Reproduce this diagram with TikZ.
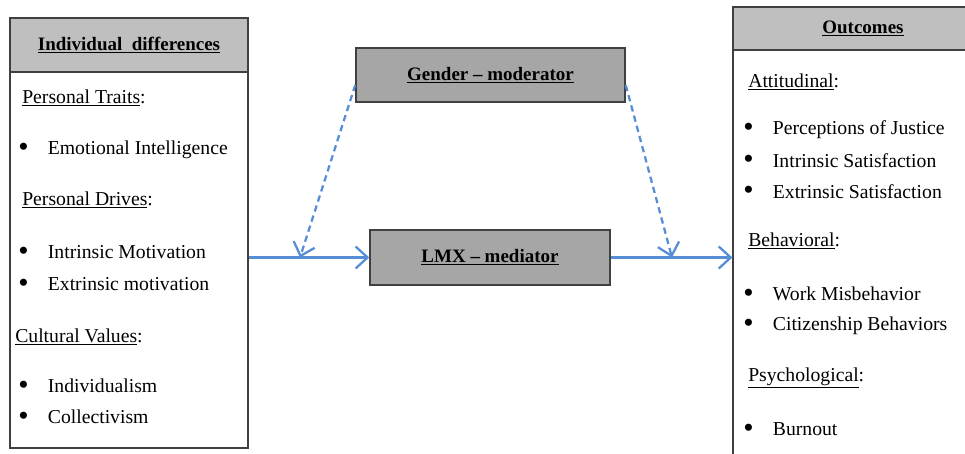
\documentclass[tikz,border=0pt]{standalone}
\usepackage{fontspec}
\setmainfont{Liberation Serif}
\usepackage{tikz}
\usetikzlibrary{arrows.meta}

\definecolor{headgray}{RGB}{191,191,191}
\definecolor{boxgray}{RGB}{166,166,166}
\definecolor{edgegray}{RGB}{64,64,64}
\definecolor{linkblue}{RGB}{85,142,213}

\newcommand{\bul}{\makebox[0.74cm][l]{\raisebox{-0.2ex}{\scalebox{1.5}{\textbullet}}}}

\begin{document}
\begin{tikzpicture}[x=0.025cm, y=-0.025cm,
    panel/.style={draw=edgegray, line width=0.8pt, inner sep=0pt},
    head/.style={panel, fill=headgray, font=\fontsize{13.5}{16}\selectfont\bfseries},
    role/.style={panel, fill=boxgray, line width=1pt, font=\fontsize{13.5}{16}\selectfont\bfseries},
    item/.style={anchor=west, inner sep=0pt, font=\fontsize{14}{16}\selectfont},
    flow/.style={draw=linkblue, line width=1.6pt}]
\clip (0,0) rectangle (965,453);
\fill[white] (0,0) rectangle (965,453);
%\tikzstyle{panel}=[draw,thick]
\begin{scope}
    \node[panel, minimum width=5.95cm, minimum height=10.75cm] (ID) at (129,233) {};
    \node[head, minimum width=5.95cm, minimum height=1.35cm] (IDh) at (129,45) {\underline{Individual\ \ differences}};

    \node[panel, minimum width=6.5cm, minimum height=11.65cm] (OC) at (863,240) {};
    \node[head, minimum width=6.5cm, minimum height=1.075cm] (OCh) at (863,28.5) {\underline{Outcomes}};

    \node[role, minimum width=6.725cm, minimum height=1.35cm] (G) at (490.5,75) {\underline{Gender -- moderator}};
    \node[role, minimum width=6cm, minimum height=1.375cm] (LMX) at (490,257.5) {\underline{LMX -- mediator}};

    \node[item] (a) at (22,98) {\underline{Personal Traits}:};
    \node[item] (b) at (18,150) {\bul Emotional Intelligence};
    \node[item] (c) at (22,200) {\underline{Personal Drives}:};
    \node[item] (d) at (18,253) {\bul Intrinsic Motivation};
    \node[item] (e) at (18,285) {\bul Extrinsic motivation};
    \node[item] (f) at (15,337) {\underline{Cultural Values}:};
    \node[item] (g) at (18,387) {\bul Individualism};
    \node[item] (h) at (18,418) {\bul Collectivism};

    \node[item] (A) at (748,82) {\underline{Attitudinal}:};
    \node[item] (B) at (743,130) {\bul Perceptions of Justice};
    \node[item] (C) at (743,161) {\bul Intrinsic Satisfaction};
    \node[item] (D) at (743,192) {\bul Extrinsic Satisfaction};
    \node[item] (E) at (748,241) {\underline{Behavioral}:};
    \node[item] (F) at (743,295) {\bul Work Misbehavior};
    \node[item] (H) at (743,326) {\bul Citizenship Behaviors};
    \node[item] (I) at (748,378) {\underline{Psychological}:};
    \node[item] (J) at (743,430) {\bul Burnout};

    \coordinate (mL) at (300,257.5);
    \coordinate (mR) at (672,257.5);
\end{scope}

\begin{scope}[>={Straight Barb[length=3mm,width=5.5mm]}]
    \path (ID.east |- LMX.west) edge[->, flow] (LMX.west);
    \path (LMX.east) edge[->, flow] (OC.west |- LMX.east);
    \path ([yshift=-0.25cm]G.west) edge[->, flow, dash pattern=on 4.5pt off 3pt] (mL);
    \path ([yshift=-0.25cm]G.east) edge[->, flow, dash pattern=on 4.5pt off 3pt] (mR);
\end{scope}
\end{tikzpicture}
\end{document}
